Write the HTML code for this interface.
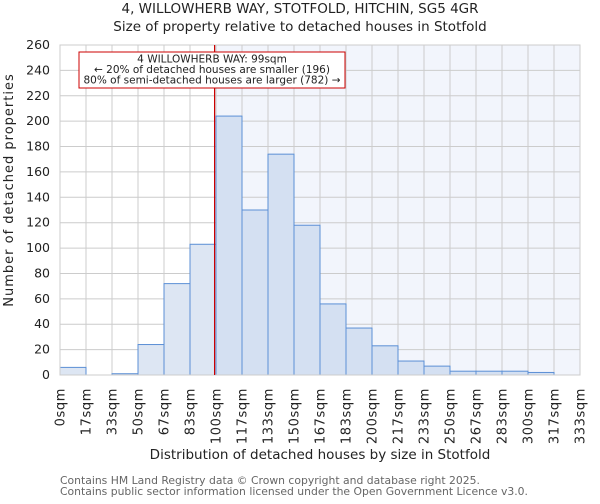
<!DOCTYPE html>
<html><head><meta charset="utf-8"><style>
body{margin:0;background:#fff;font-family:"DejaVu Sans","Liberation Sans",sans-serif}
svg text{font-family:"DejaVu Sans","Liberation Sans",sans-serif}
</style></head><body>
<svg id="c" width="600" height="500" viewBox="0 0 600 500">
<text x="300" y="13" text-anchor="middle" font-size="13.5" fill="#222">4, WILLOWHERB WAY, STOTFOLD, HITCHIN, SG5 4GR</text>
<text x="300" y="31" text-anchor="middle" font-size="13.5" fill="#222">Size of property relative to detached houses in Stotfold</text>
<g id="plot"></g>
<text transform="translate(13,190) rotate(-90)" text-anchor="middle" font-size="13" letter-spacing="1" fill="#222">Number of detached properties</text>
<text x="320" y="459" text-anchor="middle" font-size="13.5" fill="#222">Distribution of detached houses by size in Stotfold</text>
<text x="60" y="484" font-size="10.8" fill="#666">Contains HM Land Registry data © Crown copyright and database right 2025.</text>
<text x="60" y="495" font-size="10.8" fill="#666">Contains public sector information licensed under the Open Government Licence v3.0.</text>
</svg>
<script>
const tickLabels=["0sqm","17sqm","33sqm","50sqm","67sqm","83sqm","100sqm","117sqm","133sqm","150sqm","167sqm","183sqm","200sqm","217sqm","233sqm","250sqm","267sqm","283sqm","300sqm","317sqm","333sqm"];
const counts=[6,0,1,24,72,103,204,130,174,118,56,37,23,11,7,3,3,3,2,0];
const yTicks=[0,20,40,60,80,100,120,140,160,180,200,220,240,260];
const propertySize=99;
const xMax=333;
const X0=60,X1=580,Y0=375,Y1=45;
const NS="http://www.w3.org/2000/svg";
const g=document.getElementById('plot');
const xb=i=>X0+i*(X1-X0)/counts.length;
const xv=v=>X0+v/xMax*(X1-X0);
const y=v=>Y0-v/260*(Y0-Y1);
function mk(t,a){const e=document.createElementNS(NS,t);for(const k in a)e.setAttribute(k,a[k]);g.appendChild(e);return e;}
const px=xv(propertySize);
let bg=mk('rect',{x:px,y:Y1,width:X1-px,height:Y0-Y1,fill:'#f2f5fc'});


yTicks.forEach(t=>{
 let l=mk('line',{x1:X0,x2:X1,y1:y(t),y2:y(t),stroke:'#ccc','stroke-width':1});
 
 
 let tx=mk('text',{x:X0-10,y:y(t)+4,'text-anchor':'end','font-size':12.5,fill:'#222'});
 tx.textContent=t;
 
 
});
tickLabels.forEach((s,i)=>{
 let l=mk('line',{x1:xb(i),x2:xb(i),y1:Y1,y2:Y0,stroke:'#ccc','stroke-width':1});
 
 
 let tx=mk('text',{transform:`translate(${xb(i)+4.5},388) rotate(-90)`,'text-anchor':'end','font-size':13,'letter-spacing':0.6,fill:'#222'});
 tx.textContent=s;
 
 
});
counts.forEach((c,i)=>{
 if(c<=0)return;
 let r=mk('rect',{x:xb(i),y:y(c),width:xb(i+1)-xb(i),height:Y0-y(c),fill:xb(i)>=px?'#d4e0f2':'#dde6f3',stroke:'#5b8fd5','stroke-width':1});
 
 
});
let fr=mk('rect',{x:X0,y:Y1,width:X1-X0,height:Y0-Y1,fill:'none',stroke:'#ccc'});


let rl=mk('line',{x1:px,x2:px,y1:Y1,y2:Y0,stroke:'#cc0000','stroke-width':1.2});


let box=mk('rect',{x:79,y:52,width:266,height:36,fill:'#fff',stroke:'#cc0000','stroke-width':1});


["4 WILLOWHERB WAY: "+propertySize+"sqm","← 20% of detached houses are smaller (196)","80% of semi-detached houses are larger (782) →"].forEach((s,i)=>{
 let t=mk('text',{x:212,y:62.5+i*10.5,'text-anchor':'middle','font-size':10.5,fill:'#222'});
 t.textContent=s;
 
 
});
</script>
</body></html>
